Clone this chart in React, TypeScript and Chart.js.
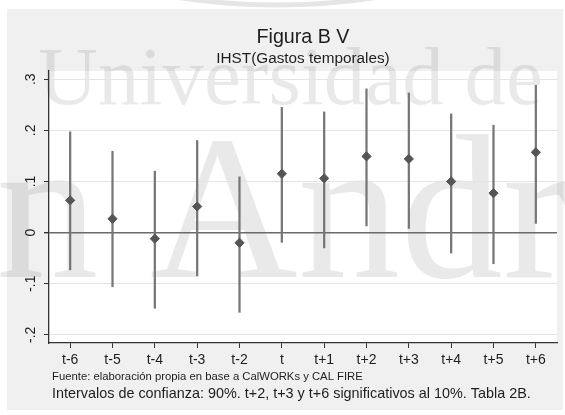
import React, { useEffect, useRef } from "react";
import { Chart, registerables } from "chart.js";

Chart.register(...registerables);

const categories = ["t-6", "t-5", "t-4", "t-3", "t-2", "t", "t+1", "t+2", "t+3", "t+4", "t+5", "t+6"];
const estimates = [0.063, 0.027, -0.012, 0.051, -0.020, 0.115, 0.106, 0.149, 0.144, 0.100, 0.077, 0.157];
const ciLower = [-0.073, -0.106, -0.148, -0.085, -0.156, -0.019, -0.030, 0.013, 0.008, -0.040, -0.061, 0.018];
const ciUpper = [0.197, 0.159, 0.120, 0.180, 0.109, 0.245, 0.236, 0.281, 0.273, 0.232, 0.210, 0.288];
const yTickValues = [-0.2, -0.1, 0, 0.1, 0.2, 0.3];
const yTickLabels = ["-.2", "-.1", "0", ".1", ".2", ".3"];
const titleText = "Figura B V";
const subtitleText = "IHST(Gastos temporales)";
const sourceNote = "Fuente: elaboración propia en base a CalWORKs y CAL FIRE";
const ciNote = "Intervalos de confianza: 90%. t+2, t+3 y t+6 significativos al 10%. Tabla 2B.";
const watermarkTop = "Universidad de";
const watermarkBottom = "San Andrés";

const SANS = '"Liberation Sans", Arial, sans-serif';
const SERIF = '"Liberation Serif", "Times New Roman", serif';

const decorPlugin = {
  id: "decor",
  beforeDraw(chart: any) {
    const { ctx, chartArea: a, width, height } = chart;
    ctx.save();
    ctx.fillStyle = "#ffffff";
    ctx.fillRect(0, 0, width, height);
    // faint ring of the watermark logo above the frame
    ctx.strokeStyle = "rgba(0,0,0,0.10)";
    ctx.lineWidth = 5;
    ctx.beginPath();
    ctx.arc(277, -640, 645, 0, Math.PI);
    ctx.stroke();
    // outer grey frame
    ctx.fillStyle = "#f0f0f0";
    ctx.fillRect(7, 9, 556, 401);
    // plot region
    ctx.fillStyle = "#ffffff";
    ctx.fillRect(a.left, a.top, a.right - a.left, a.bottom - a.top);
    // watermark
    ctx.fillStyle = "rgba(0,0,0,0.085)";
    ctx.textAlign = "left";
    ctx.textBaseline = "alphabetic";
    ctx.font = "83px " + SERIF;
    ctx.fillText(watermarkTop, 38, 104);
    ctx.font = "205px " + SERIF;
    ctx.fillText(watermarkBottom, -209, 277);
    ctx.restore();
  },
  afterDraw(chart: any) {
    const { ctx, chartArea: a } = chart;
    const cx = (a.left + a.right) / 2;
    ctx.save();
    ctx.fillStyle = "#1e1e1e";
    ctx.textAlign = "center";
    ctx.textBaseline = "alphabetic";
    ctx.font = "19.7px " + SANS;
    ctx.fillText(titleText, cx, 43);
    ctx.font = "15.3px " + SANS;
    ctx.fillText(subtitleText, cx, 62.5);

    // rotated y tick labels (Stata style)
    const ys = chart.scales.y;
    ctx.font = "14px " + SANS;
    ctx.textBaseline = "middle";
    yTickValues.forEach((v, i) => {
      const py = ys.getPixelForValue(v);
      ctx.save();
      ctx.translate(31, py);
      ctx.rotate(-Math.PI / 2);
      ctx.textAlign = "center";
      ctx.fillText(yTickLabels[i], 0, 0);
      ctx.restore();
    });

    ctx.textAlign = "left";
    ctx.textBaseline = "alphabetic";
    ctx.font = "11.3px " + SANS;
    ctx.fillText(sourceNote, 52, 380);
    ctx.font = "14.4px " + SANS;
    ctx.fillText(ciNote, 52, 398);
    ctx.restore();
  },
};

export default function App() {
  const canvasRef = useRef<HTMLCanvasElement | null>(null);

  useEffect(() => {
    const canvas = canvasRef.current;
    if (!canvas) return;
    Chart.defaults.font.family = SANS;
    const isZero = (ctx: any) => ctx.tick && Math.abs(ctx.tick.value) < 1e-9;
    const chart = new Chart(canvas, {
      type: "bar",
      data: {
        labels: categories,
        datasets: [
          {
            type: "line",
            data: estimates,
            showLine: false,
            pointStyle: "rectRot",
            pointRadius: 4.6,
            pointBackgroundColor: "#555555",
            pointBorderColor: "#555555",
            pointBorderWidth: 1,
            order: 0,
          } as any,
          {
            type: "bar",
            data: categories.map((_, i) => [ciLower[i], ciUpper[i]]),
            backgroundColor: "#767676",
            borderWidth: 0,
            barThickness: 1.6,
            order: 1,
          } as any,
        ],
      },
      options: {
        responsive: false,
        animation: false,
        layout: { padding: { left: 0, top: 71, right: 8, bottom: 0 } },
        plugins: {
          legend: { display: false },
          tooltip: { enabled: false },
          title: { display: false },
        },
        scales: {
          x: {
            type: "category",
            offset: true,
            grid: {
              display: true,
              offset: false,
              drawOnChartArea: false,
              drawTicks: true,
              tickLength: 5,
              tickColor: "#333333",
            },
            border: { display: true, color: "#333333", width: 1.3 },
            ticks: {
              autoSkip: false,
              maxRotation: 0,
              minRotation: 0,
              padding: 4,
              color: "#1e1e1e",
              font: { family: SANS, size: 14 },
            },
            afterFit: (s: any) => {
              s.height = 72;
            },
          },
          y: {
            type: "linear",
            min: -0.216,
            max: 0.316,
            afterBuildTicks: (s: any) => {
              s.ticks = yTickValues.map((v) => ({ value: v }));
            },
            ticks: { display: false },
            grid: {
              display: true,
              drawTicks: true,
              tickLength: 5,
              tickColor: "#333333",
              color: (ctx: any) => (isZero(ctx) ? "#6a6a6a" : "#e4e4e4"),
              lineWidth: (ctx: any) => (isZero(ctx) ? 1.4 : 1),
            },
            border: { display: true, color: "#333333", width: 1.3 },
            afterFit: (s: any) => {
              s.width = 49;
            },
          },
        },
      },
      plugins: [decorPlugin],
    } as any);
    return () => chart.destroy();
  }, []);

  return (
    <div style={{ position: "absolute", left: 0, top: 0, width: 565, height: 415 }}>
      <canvas ref={canvasRef} width={565} height={415} style={{ display: "block", width: 565, height: 415 }} />
    </div>
  );
}
